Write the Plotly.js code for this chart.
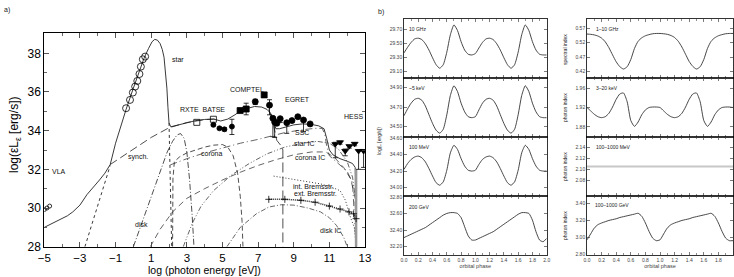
<!DOCTYPE html>
<html><head><meta charset="utf-8">
<script src="https://cdn.plot.ly/plotly-3.0.1.min.js"></script>
<style>body{margin:0;background:#fff}#c{width:734px;height:277px}</style>
</head><body><div id="c"></div>
<script>
// ---------- panel a) SED ----------
const totX = [-5,-4.5,-4.0,-3.7,-3.4,-3.0,-2.6,-2.2,-1.9,-1.6,-1.3,-1.0,-0.7,-0.41,0.0,0.3,0.6,0.85,1.05,1.2,1.35,1.5,1.62,1.72,1.8,1.88,1.94,2.0,2.1,2.5,3.0,3.5,4.0,4.5,4.9,5.3,5.7,6.0,6.4,6.8,7.2,7.5,7.7,7.85,8.0,8.2,8.6,9.0,9.5,10.0,10.4,10.7,10.85,11.0,11.2,11.6,12.0,12.3,12.45,12.5];
const totY = [29.0,29.22,29.45,29.6,29.8,30.15,30.7,31.1,31.45,31.8,32.25,33.35,34.3,35.1,36.2,37.0,37.75,38.25,38.6,38.72,38.68,38.5,38.2,37.8,37.1,36.2,35.2,34.4,34.2,34.3,34.42,34.52,34.58,34.6,34.5,34.6,34.82,35.02,35.15,35.25,35.22,35.1,34.9,34.5,34.1,34.1,34.2,34.3,34.35,34.32,34.25,34.1,33.6,33.0,32.75,32.55,32.42,32.3,32.1,28];
const starRJX = [-2.72,-2.0,-1.3];       const starRJY = [28,30.1,32.2];
const starWX = [2.0,2.08,2.15];          const starWY = [34.4,31.0,28];
const synX = [-1.3,-0.5,0.3,1.0,2.0,3.0,4.0,4.6];
const synY = [32.25,32.75,33.25,33.65,34.15,34.42,34.57,34.6];
const synCutX = [7.6,7.8,8.05,8.33,8.39,8.39];
const synCutY = [35.1,34.55,33.5,33.17,33.0,28];
const diskX = [0.0,0.5,1.0,1.5,1.9,2.2,2.45,2.65,2.85,3.0,3.15,3.3,3.4];
const diskY = [28,29.3,30.6,31.9,32.9,33.45,33.78,33.85,33.6,32.9,31.5,29.6,28];
const corX = [2.2,2.22,2.3,2.6,3.0,3.5,4.0,4.5,5.0,5.3,5.6,5.85,6.0,6.1,6.15];
const corY = [28,31.5,32.4,32.65,32.85,33.0,33.15,33.25,33.28,33.15,32.7,31.8,30.6,29.3,28];
const corICX = [0.95,1.5,2.2,3.0,4.0,5.0,6.0,7.0,8.0,9.0,10.0,10.8,11.3,11.8,12.2,12.45,12.5];
const corICY = [28,28.9,29.8,30.5,31.0,31.45,31.85,32.2,32.5,32.75,32.9,32.9,32.6,32.1,31.5,30.5,28];
const starICX = [2.8,3.3,3.8,4.5,5.5,6.5,7.5,8.5,9.5,10.3,11.0,11.5,12.0,12.3,12.45,12.5];
const starICY = [28,29.2,30.1,30.9,31.7,32.3,32.8,33.15,33.35,33.45,33.35,33.05,32.4,31.6,30.6,28];
const sscX = [2.07,3,4,5,6,7,7.7,8.5,9.5,10.2,10.6,10.75,10.85,11.0,11.5,12.0,12.3,12.5];
const sscY = [32.23,32.55,32.85,33.1,33.35,33.55,33.7,33.9,34.05,34.12,34.12,33.8,33.2,32.7,32.3,31.9,31.3,28];
const intBX = [7.87,8.5,9.5,10.5,11.2,11.6,11.9,12.19,12.4,12.5];
const intBY = [31.65,31.55,31.4,31.25,31.05,30.9,30.4,29.5,29.0,28];
const extBX = [7.6,8.5,9.4,10.2,11.0,11.6,12.1,12.36,12.5];
const extBY = [30.45,30.45,30.4,30.3,30.1,29.95,29.8,29.7,29.45];
const diskICX = [5.25,6.0,6.9,7.6,8.3,9.0,9.8,10.5,11.0,11.4,11.8,12.0];
const diskICY = [28,29.0,29.7,30.05,30.17,30.15,30.0,29.8,29.5,29.1,28.5,28];
const greyX = [12.5,12.5]; const greyY = [28,32.0];
// data points
const optX = [-0.41,-0.19,-0.03,0.10,0.22,0.34,0.42,0.53,0.66];
const optY = [35.16,35.59,35.97,36.28,36.57,36.93,37.31,37.69,37.83];
const vlaX = [-5.0,-4.85,-4.7]; const vlaY = [29.92,30.0,30.1];
const rxteX = [3.56,4.49]; const rxteY = [34.43,34.59];
const hxX = [4.49,4.83,5.11,5.53]; const hxY = [34.3,34.12,34.07,34.21];
const hxUp = [0.05,0.06,0.08,0.38]; const hxDn = [0.05,0.06,0.08,0.41];
const compSqX = [5.99,6.33,7.34]; const compSqY = [35.04,35.12,35.85];
const compSqUp = [0.05,0.3,0.05]; const compSqDn = [0.05,0.3,0.05];
const compCiX = [6.84,7.64]; const compCiY = [35.5,35.32];
const compCiUp = [0.12,0.28]; const compCiDn = [0.15,0.5];
const egX = [7.83,7.93,8.05,8.24,8.61,8.9,9.23,9.55,9.92];
const egY = [34.64,34.45,34.38,34.62,34.41,34.52,34.72,34.55,34.35];
const egUp = [0.05,0.05,0.05,0.05,0.05,0.05,0.05,0.05,0.05];
const egDn = [0.95,0.8,0.1,0.2,0.55,0.1,0.1,0.6,0.1];
const hessX = [11.33,11.6,11.89,12.12,12.42,12.64,12.92];
const hessY = [33.3,33.4,32.95,33.2,33.32,32.95,32.95];
const hessUp = [0.1,0.05,0.1,0.05,0.05,0.05,0.05];
const hessDn = [0.7,0.1,0.25,0.1,0.1,0.95,0.85];

// ---------- panel b) orbital modulation ----------
const phase = [0,0.05,0.1,0.15,0.2,0.25,0.3,0.35,0.4,0.45,0.5,0.55,0.6,0.65,0.7,0.75,0.8,0.85,0.9,0.95,1.0,1.05,1.1,1.15,1.2,1.25,1.3,1.35,1.4,1.45,1.5,1.55,1.6,1.65,1.7,1.75,1.8,1.85,1.9,1.95,2.0];
const lum10GHz = [29.36,29.44,29.51,29.56,29.57,29.55,29.49,29.40,29.29,29.19,29.14,29.19,29.37,29.62,29.76,29.68,29.52,29.40,29.34,29.33,29.35,29.43,29.51,29.56,29.57,29.55,29.49,29.40,29.29,29.19,29.14,29.19,29.37,29.62,29.76,29.68,29.52,29.40,29.34,29.33,29.33];
const lum5keV = [34.61,34.68,34.74,34.78,34.79,34.77,34.71,34.62,34.53,34.46,34.43,34.47,34.62,34.82,34.92,34.86,34.74,34.65,34.60,34.59,34.60,34.67,34.74,34.78,34.79,34.77,34.71,34.62,34.53,34.46,34.43,34.47,34.62,34.82,34.92,34.86,34.74,34.65,34.60,34.59,34.59];
const lum100MeV = [34.22,34.29,34.34,34.37,34.38,34.36,34.31,34.23,34.14,34.06,34.03,34.07,34.21,34.42,34.51,34.46,34.35,34.26,34.21,34.20,34.21,34.28,34.34,34.37,34.38,34.36,34.31,34.23,34.14,34.06,34.03,34.07,34.21,34.42,34.51,34.46,34.35,34.26,34.21,34.20,34.20];
const lum200GeV = [32.31,32.33,32.35,32.37,32.39,32.41,32.43,32.46,32.49,32.52,32.55,32.58,32.60,32.61,32.61,32.60,32.55,32.44,32.33,32.28,32.28,32.30,32.32,32.34,32.36,32.38,32.41,32.44,32.47,32.50,32.53,32.56,32.59,32.61,32.61,32.60,32.52,32.38,32.28,32.26,32.30];
const idxRadio = [0.550,0.549,0.547,0.543,0.536,0.523,0.503,0.478,0.454,0.437,0.429,0.437,0.462,0.500,0.525,0.537,0.544,0.548,0.551,0.552,0.552,0.551,0.549,0.545,0.538,0.525,0.505,0.480,0.455,0.438,0.429,0.437,0.462,0.500,0.525,0.537,0.544,0.548,0.551,0.552,0.552];
const idxXray = [1.920,1.913,1.906,1.901,1.899,1.901,1.908,1.921,1.937,1.948,1.950,1.932,1.893,1.881,1.890,1.905,1.915,1.920,1.921,1.921,1.920,1.913,1.906,1.901,1.899,1.901,1.908,1.921,1.937,1.948,1.950,1.932,1.893,1.881,1.890,1.905,1.915,1.920,1.921,1.921,1.920];
const idxMeVX = [0,2]; const idxMeV = [2.105,2.105];
const idxTeV = [2.97,3.04,3.11,3.15,3.17,3.185,3.20,3.21,3.22,3.235,3.245,3.255,3.265,3.275,3.285,3.25,3.17,3.07,2.99,2.96,2.97,3.04,3.11,3.15,3.17,3.185,3.20,3.21,3.22,3.235,3.245,3.255,3.265,3.275,3.285,3.25,3.17,3.07,2.99,2.96,2.96];

const K = '#000', LC = '#222';
function ln(x,y,dash,w,col){return {x:x,y:y,type:'scatter',mode:'lines',xaxis:'x',yaxis:'y',hoverinfo:'skip',line:{color:col||LC,width:w||0.8,dash:dash||'solid'}};}
function pts(x,y,sym,size,up,dn,ec){
  const t={x:x,y:y,type:'scatter',mode:'markers',xaxis:'x',yaxis:'y',hoverinfo:'skip',
    marker:{symbol:sym,size:size,color:K,line:{color:K,width:0.8}}};
  if(up){t.error_y={type:'data',symmetric:false,array:up,arrayminus:dn,color:ec||K,thickness:0.8,width:2.5};}
  return t;}

const traces = [
  ln(totX,totY,'solid',0.9),
  ln(starRJX,starRJY,'dot',0.9),
  ln(starWX,starWY,'dot',0.9),
  ln(synX,synY,'8px,4px',0.8),
  ln(synCutX,synCutY,'10px,4px',0.8),
  ln(diskX,diskY,'6px,2px,1px,2px',0.8),
  ln(corX,corY,'5px,3px',0.8),
  ln(corICX,corICY,'6px,4px',0.7),
  ln(starICX,starICY,'5px,2px,1px,2px,1px,2px',0.7),
  ln(sscX,sscY,'7px,3px,1px,3px',0.7),
  ln(intBX,intBY,'1px,2px',0.9),
  ln(extBX,extBY,'1px,1px',1.5),
  ln(diskICX,diskICY,'5px,2px,1px,2px',0.7),
  ln(greyX,greyY,'solid',2.5,'#999'),
  {x:extBX,y:extBY,type:'scatter',mode:'markers',xaxis:'x',yaxis:'y',hoverinfo:'skip',marker:{symbol:'cross-thin-open',size:5,color:K,line:{color:K,width:0.8}}},
  pts(optX,optY,'circle-open',7),
  pts(vlaX,vlaY,'circle-open',4),
  pts(rxteX,rxteY,'square-open',6),
  pts(hxX,hxY,'circle',5,hxUp,hxDn),
  pts(compSqX,compSqY,'square',6,compSqUp,compSqDn),
  pts(compCiX,compCiY,'circle',6,compCiUp,compCiDn),
  pts(egX,egY,'circle',6,egUp,egDn),
  pts(hessX,hessY,'triangle-down',6,hessUp,hessDn)
];

// small panels: [xaxis id, yaxis id, x, y, colour, width]
const small = [
  ['x2','y2',phase,lum10GHz],['x3','y3',phase,lum5keV],['x4','y4',phase,lum100MeV],['x5','y5',phase,lum200GeV],
  ['x6','y6',phase,idxRadio],['x7','y7',phase,idxXray],['x8','y8',idxMeVX,idxMeV,'#c8c8c8',2.2],['x9','y9',phase,idxTeV]
];
small.forEach(s=>traces.push({x:s[2],y:s[3],type:'scatter',mode:'lines',xaxis:s[0],yaxis:s[1],hoverinfo:'skip',
  line:{color:s[4]||'#333',width:s[5]||0.9,shape:'spline',smoothing:0.6}}));

const W=734,H=277;
const fx=p=>p/W, fy=p=>1-p/H;
const F = 'Liberation Sans, Arial, sans-serif';
const layout = {width:W,height:H,margin:{l:0,r:0,t:0,b:0},paper_bgcolor:'#fff',plot_bgcolor:'#fff',showlegend:false,
  font:{family:F,color:'#000'},
  xaxis:{domain:[fx(44.3),fx(365)],range:[-5,13],anchor:'y',tick0:-5,dtick:2,ticks:'inside',ticklen:5,tickwidth:0.9,
    minor:{dtick:1,ticks:'inside',ticklen:3,tickwidth:0.8},showline:true,mirror:'allticks',linecolor:K,linewidth:1,
    showgrid:false,zeroline:false,tickfont:{size:11.5,family:F,color:'#000'}},
  yaxis:{domain:[fy(246.7),fy(33)],range:[28,39.05],anchor:'x',tick0:28,dtick:2,ticks:'inside',ticklen:5,tickwidth:0.9,
    minor:{dtick:1,ticks:'inside',ticklen:3,tickwidth:0.8},showline:true,mirror:'allticks',linecolor:K,linewidth:1,
    showgrid:false,zeroline:false,tickfont:{size:12,family:F,color:'#000'}},
  annotations:[]
};
const rows=[[19,78],[78,137],[137,196],[196,255]];
const cols=[[404,546.7],[587,733]];
const yr = [[29.0,29.845],[34.39,35.0],[33.9,34.61],[32.1,32.81],[0.398,0.602],[1.859,1.981],[2.052,2.158],[2.79,3.49]];
const yt = [[29.1,29.3,29.5,29.7],[34.5,34.7,34.9],[34.0,34.2,34.4,34.6],[32.2,32.4,32.6,32.8],[0.42,0.47,0.52,0.57],[1.88,1.92,1.96],[2.08,2.10,2.12,2.14],[2.8,3.0,3.2,3.4]];
for(let i=0;i<8;i++){
  const c=Math.floor(i/4), r=i%4, n=i+2;
  const bottom = r===3;
  const xa={domain:[fx(cols[c][0]),fx(cols[c][1])],range:[0,2],anchor:'y'+n,dtick:0.2,tick0:0,tickformat:'.1f',
    ticks:'inside',ticklen:3,tickwidth:0.7,minor:{dtick:0.1,ticks:'inside',ticklen:2,tickwidth:0.6},
    showline:true,mirror:'allticks',linecolor:K,linewidth:0.8,showgrid:false,zeroline:false,
    showticklabels:bottom,tickfont:{size:5,family:F,color:'#444'}};
  if(bottom){xa.title={text:'orbital phase',font:{size:5.5,family:F,color:'#444'},standoff:2};}
  layout['xaxis'+n]=xa;
  layout['yaxis'+n]={domain:[fy(rows[r][1]),fy(rows[r][0])],range:yr[i],anchor:'x'+n,tickvals:yt[i],
    ticktext:yt[i].map(v=>v.toFixed(2)),
    ticks:'inside',ticklen:3,tickwidth:0.7,showline:true,mirror:'allticks',linecolor:K,linewidth:0.8,
    showgrid:false,zeroline:false,tickfont:{size:5,family:F,color:'#444'}};
}
const A = layout.annotations;
function ann(x,y,t){A.push({x:x,y:y,text:t,showarrow:false,xref:'x',yref:'y',xanchor:'center',yanchor:'middle',font:{size:7,family:F,color:'#111'}});}
ann(2.5,37.7,'star'); ann(6.4,36.15,'COMPTEL'); ann(9.2,35.6,'EGRET'); ann(3.9,35.07,'RXTE  BATSE');
ann(12.35,34.75,'HESS'); ann(0.25,32.65,'synch.'); ann(4.4,32.8,'corona'); ann(-4.2,31.9,'VLA'); ann(0.45,29.15,'disk');
ann(9.45,33.9,'SSC'); ann(9.6,33.32,'star IC'); ann(9.9,32.62,'corona IC'); ann(10.1,31.12,'int. Bremsstr.');
ann(10.2,30.75,'ext. Bremsstr.'); ann(11.05,28.85,'disk IC');
function pa(px,py,t,sz,o){A.push(Object.assign({x:fx(px),y:fy(py),text:t,showarrow:false,xref:'paper',yref:'paper',xanchor:'center',yanchor:'middle',font:{size:sz,family:F,color:'#222'}},o||{}));}
pa(7,10,'a)',7); pa(381,12,'b)',7);
pa(15,135,'log(εL<sub>ε</sub> [erg/s])',12,{textangle:-90,font:{size:12,family:F,color:'#000'}});
pa(204,270,'log (photon energy [eV])',10.5,{font:{size:10.5,family:F,color:'#000'}});
pa(379,141,'log(L [erg/s])',5,{textangle:-90});
pa(565,50,'spectral index',5,{textangle:-90}); pa(565,108,'photon index',5,{textangle:-90});
pa(565,167,'photon index',5,{textangle:-90}); pa(565,226,'photon index',5,{textangle:-90});
pa(407,29,'10 GHz',5,{xanchor:'left'}); pa(407,88,'~5 keV',5,{xanchor:'left'});
pa(407,147,'100 MeV',5,{xanchor:'left'}); pa(407,207,'200 GeV',5,{xanchor:'left'});
pa(594,29,'1–10 GHz',5,{xanchor:'left'}); pa(594,88,'3–20 keV',5,{xanchor:'left'});
pa(594,147,'100–1000 MeV',5,{xanchor:'left'}); pa(593,205,'100–1000 GeV',5,{xanchor:'left'});

Plotly.newPlot('c',traces,layout,{staticPlot:true,displayModeBar:false});
</script></body></html>
